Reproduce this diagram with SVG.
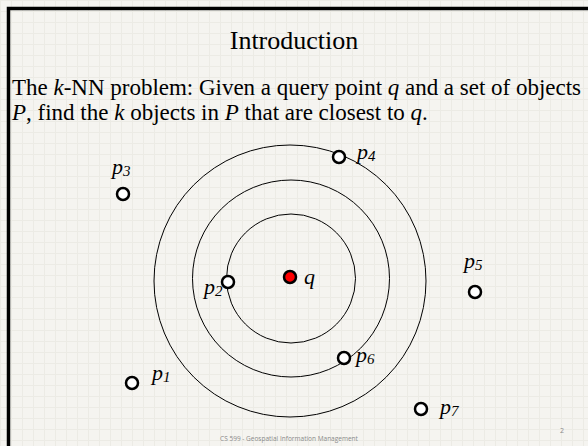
<svg xmlns="http://www.w3.org/2000/svg" width="588" height="446" viewBox="0 0 588 446">
<defs>
<pattern id="grid" width="11" height="11" patternUnits="userSpaceOnUse">
<rect width="11" height="11" fill="#f5f4f0"/>
<path d="M0 0.5H11M0.5 0V11" stroke="#ecebe5" stroke-width="1" fill="none"/>
</pattern>
<style>
.ring{fill:none;stroke:#000;stroke-width:1}
.pt{fill:#fff;stroke:#000;stroke-width:2.5}
.lbl{font-family:"Liberation Serif",serif;font-style:italic;font-size:22px;fill:#000}
.sub{font-size:15px}
.body{font-family:"Liberation Serif",serif;font-size:23px;fill:#000}
</style>
</defs>
<rect width="588" height="446" fill="url(#grid)"/>
<path d="M8.5 450V8.5H592" fill="none" stroke="#000" stroke-width="3.5"/>
<text x="294" y="49" text-anchor="middle" font-family="Liberation Serif, serif" font-size="26">Introduction</text>
<text class="body" x="12" y="95" textLength="569" lengthAdjust="spacing">The <tspan font-style="italic">k</tspan>-NN problem: Given a query point <tspan font-style="italic">q</tspan> and a set of objects</text>
<text class="body" x="12" y="120"><tspan font-style="italic">P</tspan>, find the <tspan font-style="italic">k</tspan> objects in <tspan font-style="italic">P</tspan> that are closest to <tspan font-style="italic">q</tspan>.</text>
<g id="connectors">
<circle class="ring" cx="291" cy="278.5" r="64.5"/>
<circle class="ring" cx="291" cy="278.5" r="98.5"/>
<circle class="ring" cx="290" cy="281" r="136"/>
</g>
<g id="q"><circle cx="290" cy="277" r="6" fill="#f00" stroke="#000" stroke-width="2.5"/><text class="lbl" x="304" y="284">q</text></g>
<g id="p1"><circle class="pt" cx="132" cy="383" r="6"/><text class="lbl" x="152" y="380">p<tspan class="sub" dy="2">1</tspan></text></g>
<g id="p2"><circle class="pt" cx="228" cy="282" r="6"/><text class="lbl" x="204" y="294">p<tspan class="sub" dy="2">2</tspan></text></g>
<g id="p3"><circle class="pt" cx="123" cy="194" r="6"/><text class="lbl" x="112" y="174">p<tspan class="sub" dy="2">3</tspan></text></g>
<g id="p4"><circle class="pt" cx="339" cy="157" r="6"/><text class="lbl" x="357" y="159">p<tspan class="sub" dy="2">4</tspan></text></g>
<g id="p5"><circle class="pt" cx="475" cy="292" r="6"/><text class="lbl" x="464" y="268">p<tspan class="sub" dy="2">5</tspan></text></g>
<g id="p6"><circle class="pt" cx="344" cy="358" r="6"/><text class="lbl" x="356" y="362">p<tspan class="sub" dy="2">6</tspan></text></g>
<g id="p7"><circle class="pt" cx="421" cy="409" r="6"/><text class="lbl" x="440" y="414">p<tspan class="sub" dy="2">7</tspan></text></g>
<text x="289" y="441" text-anchor="middle" font-family="Open Sans, sans-serif" font-size="6.5" fill="#8a8a8a">CS 599 - Geospatial Information Management</text>
<text x="562" y="433" text-anchor="middle" font-family="Open Sans, sans-serif" font-size="7" fill="#8a8a8a">2</text>
</svg>
